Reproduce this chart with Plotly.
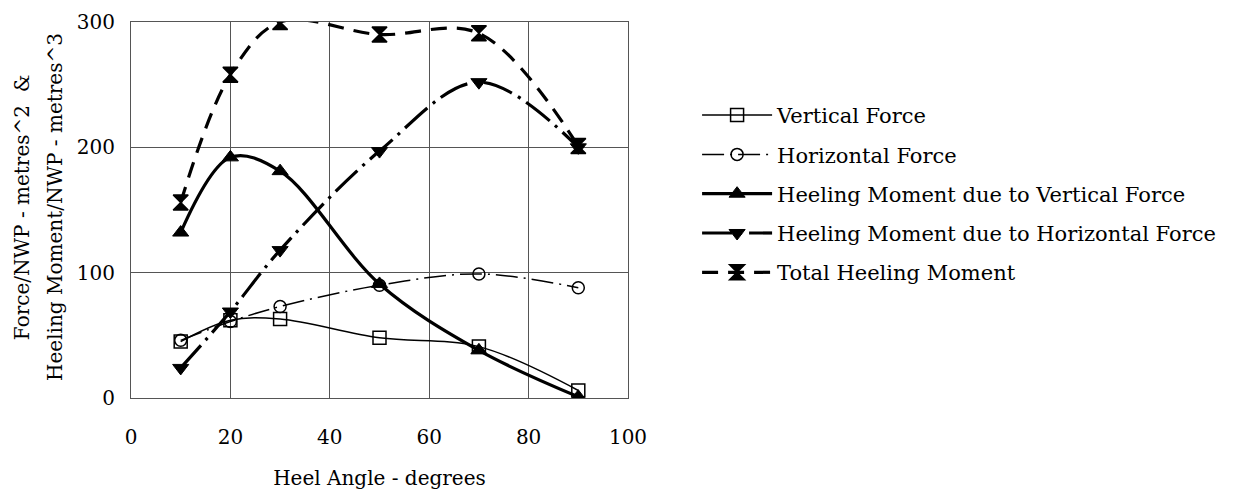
import plotly.graph_objects as go

heel_angle = [10, 20, 30, 50, 70, 90]
vertical_force = [45, 62, 63, 48, 41, 6]
horizontal_force = [46, 61, 73, 90, 99, 88]
hm_vertical = [132, 192, 181, 91, 38, 1]
hm_horizontal = [24, 69, 118, 197, 252, 200]
total_hm = [156, 258, 300, 290, 291, 201]

x_ticks = [0, 20, 40, 60, 80, 100]
y_ticks = [0, 100, 200, 300]

FONT = "DejaVu Serif"

fig = go.Figure()

series = [
    ("Vertical Force", vertical_force, dict(width=1.5, dash="solid"),
     dict(symbol="square-open", size=13, color="black", line=dict(width=1.5, color="black"))),
    ("Horizontal Force", horizontal_force, dict(width=1.5, dash="22px,6px,2px,6px"),
     dict(symbol="circle-open", size=12, color="black", line=dict(width=1.5, color="black"))),
    ("Heeling Moment due to Vertical Force", hm_vertical, dict(width=3.2, dash="solid"),
     dict(symbol="triangle-up", size=14, color="black", line=dict(width=1, color="black"))),
    ("Heeling Moment due to Horizontal Force", hm_horizontal, dict(width=3.2, dash="30px,7px,3px,7px"),
     dict(symbol="triangle-down", size=14, color="black", line=dict(width=1, color="black"))),
    ("Total Heeling Moment", total_hm, dict(width=3.2, dash="16px,10px"),
     dict(symbol="hourglass", size=15, color="black", line=dict(width=1.5, color="black"))),
]

for i, (name, vals, ln, mk) in enumerate(series):
    fig.add_trace(go.Scatter(
        x=heel_angle, y=vals, name=name, mode="lines+markers",
        line=dict(color="black", shape="spline", smoothing=1.0, **ln),
        marker=mk, legendgroup=f"g{i}",
    ))

fig.update_layout(
    width=1233, height=490,
    paper_bgcolor="white", plot_bgcolor="white",
    margin=dict(l=131, r=605, t=22, b=92, autoexpand=False),
    font=dict(family=FONT, size=20, color="black"),
    showlegend=True,
    legend=dict(
        x=1.139, y=0.806, xanchor="left", yanchor="top",
        font=dict(family=FONT, size=21, color="black"),
        traceorder="grouped", tracegroupgap=9,
        itemwidth=70, bgcolor="rgba(0,0,0,0)",
    ),
    annotations=[
        dict(text="Force/NWP - metres^2  &", xref="paper", yref="paper",
             x=-0.219, y=0.508, xanchor="center", yanchor="middle",
             textangle=-90, showarrow=False, font=dict(family=FONT, size=20)),
        dict(text="Heeling Moment/NWP - metres^3", xref="paper", yref="paper",
             x=-0.153, y=0.508, xanchor="center", yanchor="middle",
             textangle=-90, showarrow=False, font=dict(family=FONT, size=20)),
    ],
)

fig.update_xaxes(
    range=[0, 100], tickvals=x_ticks, automargin=False,
    showgrid=True, gridcolor="#555555", gridwidth=0.8,
    showline=True, linecolor="#555555", linewidth=1, mirror=True,
    zeroline=False, ticks="", ticklabelstandoff=21,
    tickfont=dict(family=FONT, size=20),
    title=dict(text="Heel Angle - degrees", font=dict(family=FONT, size=20), standoff=25),
)
fig.update_yaxes(
    range=[0, 300], tickvals=y_ticks, automargin=False,
    showgrid=True, gridcolor="#555555", gridwidth=0.8,
    showline=True, linecolor="#555555", linewidth=1, mirror=True,
    zeroline=False, ticks="", ticklabelstandoff=11,
    tickfont=dict(family=FONT, size=20),
)

fig.write_html("out.html", config={"displayModeBar": False},
               post_script="document.body.style.margin='0';")
